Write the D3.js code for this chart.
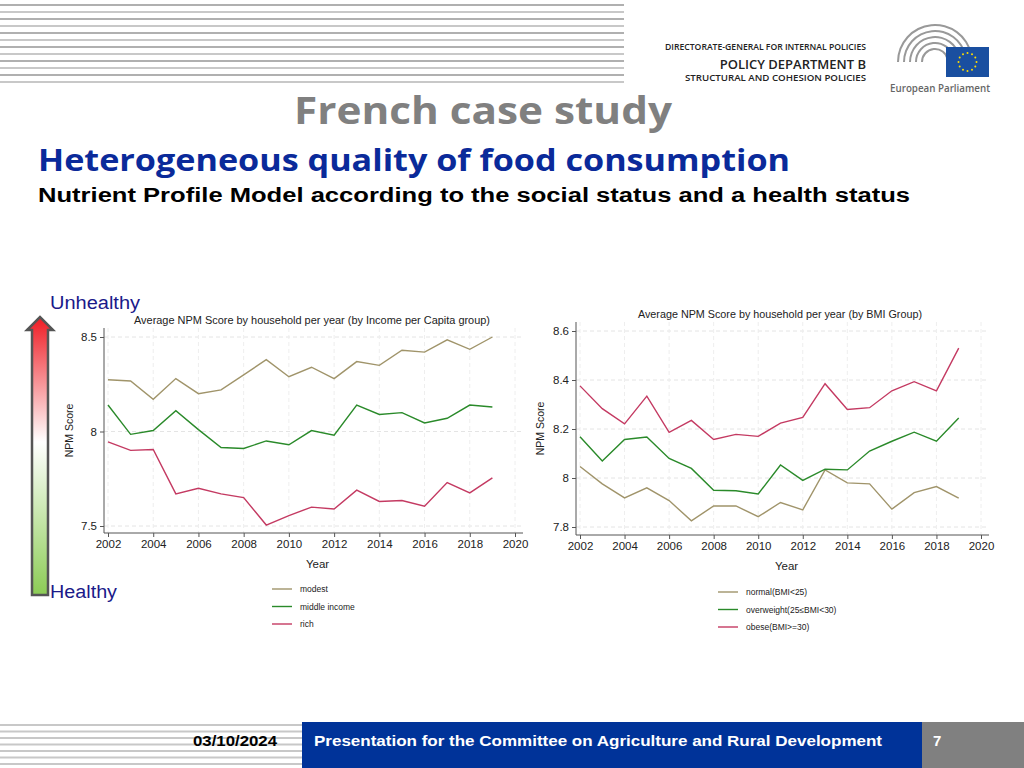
<!DOCTYPE html>
<html><head><meta charset="utf-8">
<script src="https://cdn.jsdelivr.net/npm/d3@7"></script>
<style>body{margin:0;background:#fff}svg{display:block}</style>
</head><body>
<svg id="s" width="1024" height="768"></svg>
<script>
const years = d3.range(2002, 2020);
const modest = [8.274,8.267,8.170,8.28,8.20,8.22,8.30,8.38,8.29,8.34,8.28,8.37,8.35,8.43,8.42,8.485,8.435,8.50];
const middleIncome = [8.14,7.985,8.005,8.11,8.01,7.915,7.91,7.95,7.93,8.005,7.98,8.14,8.09,8.10,8.045,8.07,8.14,8.13];
const rich = [7.945,7.90,7.905,7.67,7.70,7.67,7.65,7.505,7.555,7.60,7.59,7.69,7.63,7.635,7.605,7.73,7.675,7.755];
const normal = [8.047,7.976,7.919,7.96,7.908,7.825,7.886,7.886,7.842,7.90,7.87,8.033,7.98,7.976,7.873,7.94,7.965,7.918];
const overweight = [8.168,8.069,8.157,8.167,8.08,8.039,7.95,7.948,7.935,8.053,7.99,8.036,8.033,8.11,8.15,8.187,8.15,8.245];
const obese = [8.376,8.283,8.221,8.334,8.186,8.235,8.157,8.178,8.17,8.224,8.247,8.385,8.28,8.287,8.356,8.393,8.356,8.53];
const xTicks = [2002,2004,2006,2008,2010,2012,2014,2016,2018,2020];
const yTicksL = [7.5,8,8.5];
const yTicksR = [7.8,8,8.2,8.4,8.6];
const legendL = ["modest","middle income","rich"];
const legendR = ["normal(BMI<25)","overweight(25≤BMI<30)","obese(BMI>=30)"];
const colors = ["#a0946a","#2a8a2a","#c43a62"];

const svg = d3.select("#s");
const F = "Liberation Sans, Arial, sans-serif";
function txt(x,y,s,o){const t=svg.append("text").attr("x",x).attr("y",y).text(s).attr("font-family",o.f||F).attr("font-size",o.s).attr("fill",o.c||"#000");
  if(o.w)t.attr("font-weight",o.w); if(o.a)t.attr("text-anchor",o.a); if(o.l)t.attr("textLength",o.l).attr("lengthAdjust","spacingAndGlyphs"); return t;}

for (let i=0;i<12;i++){
  svg.append("rect").attr("x",0).attr("y",4+i*7).attr("width",624).attr("height",2).attr("fill",i%2?"#c8c8c8":"#b0b0b0");
}
txt(665,50,"DIRECTORATE-GENERAL FOR INTERNAL POLICIES",{f:"Open Sans",w:600,s:9,c:"#222",l:201});
txt(866,69,"POLICY DEPARTMENT B",{f:"Open Sans",w:600,s:13,c:"#222",a:"end"});
txt(685,81,"STRUCTURAL AND COHESION POLICIES",{f:"Open Sans",w:600,s:9,c:"#222",l:181});
const lg = svg.append("g");
[38,32,26,20,14].forEach((r)=>{
  lg.append("path").attr("d",d3.arc()({innerRadius:r-2,outerRadius:r,startAngle:-Math.PI/2,endAngle:Math.PI/2.3})).attr("transform","translate(935,62)").attr("fill","#999");
});
lg.append("rect").attr("x",946).attr("y",47).attr("width",43).attr("height",30).attr("fill","#1a4fa0");
for(let k=0;k<12;k++){const a=k*Math.PI/6;lg.append("circle").attr("cx",967.5+9*Math.cos(a)).attr("cy",62+9*Math.sin(a)).attr("r",1).attr("fill","#ffdd00");}
txt(890,92,"European Parliament",{f:"Open Sans",w:600,s:11,c:"#666",l:100});

txt(294,124,"French case study",{f:"Open Sans",w:700,s:38,c:"#808080",l:378});
txt(38,171,"Heterogeneous quality of food consumption",{f:"Open Sans",w:700,s:30,c:"#0a2a9a",l:752});
txt(38,202,"Nutrient Profile Model according to the social status and a health status",{w:700,s:20,l:872});

const defs = svg.append("defs");
const gr = defs.append("linearGradient").attr("id","ag").attr("x1",0).attr("y1",1).attr("x2",0).attr("y2",0);
gr.append("stop").attr("offset","0%").attr("stop-color","#8ccc55");
gr.append("stop").attr("offset","55%").attr("stop-color","#ffffff");
gr.append("stop").attr("offset","100%").attr("stop-color","#ee1c24");
svg.append("path").attr("d","M32,595 L32,330 L27,330 L40,317 L53,330 L48,330 L48,595 Z").attr("fill","url(#ag)").attr("stroke","#555").attr("stroke-width",2.5);
txt(50,309,"Unhealthy",{s:18,c:"#1a1a8a",l:90});
txt(50,598,"Healthy",{s:18,c:"#1a1a8a",l:67});

function chart(o){
  const x = d3.scaleLinear().domain([2002,2020]).range([o.x0,o.x1]);
  const y = d3.scaleLinear().domain(o.yd).range([o.y0,o.y1]);
  const g = svg.append("g");
  o.yt.forEach(t=>g.append("line").attr("x1",o.x0-4).attr("x2",o.x1+8).attr("y1",y(t)).attr("y2",y(t)).attr("stroke","#e4e4e4").attr("stroke-dasharray","4,3"));
  xTicks.forEach(t=>g.append("line").attr("x1",x(t)).attr("x2",x(t)).attr("y1",o.top).attr("y2",o.bottom).attr("stroke","#eeeeee").attr("stroke-dasharray","4,3"));
  const ax = g.append("g").attr("transform",`translate(0,${o.bottom})`).call(d3.axisBottom(x).tickValues(xTicks).tickFormat(d3.format("d")).tickSize(4));
  const ay = g.append("g").attr("transform",`translate(${o.x0-4},0)`).call(d3.axisLeft(y).tickValues(o.yt).tickFormat(d=>String(d)).tickSize(4));
  [ax,ay].forEach(a=>{a.selectAll("path,line").attr("stroke","#555");a.selectAll("text").attr("font-family",F).attr("font-size",11.5).attr("fill","#222");});
  ax.select(".domain").attr("d",`M${o.x0-4},0H${o.x1+8}`);
  ay.select(".domain").attr("d",`M0,${o.top}V${o.bottom}`);
  const line = d3.line().x((d,i)=>x(years[i])).y(d=>y(d));
  o.series.forEach((s,i)=>g.append("path").attr("d",line(s)).attr("fill","none").attr("stroke",colors[i]).attr("stroke-width",1.4));
  g.append("text").attr("x",o.tx).attr("y",o.ty).attr("text-anchor","middle").attr("font-family",F).attr("font-size",11.5).attr("fill","#222").attr("textLength",o.tl).attr("lengthAdjust","spacingAndGlyphs").text(o.title);
  g.append("text").attr("transform",`translate(${o.yl},${(o.top+o.bottom)/2}) rotate(-90)`).attr("text-anchor","middle").attr("font-family",F).attr("font-size",10.5).attr("fill","#222").text("NPM Score");
  g.append("text").attr("x",(o.x0+o.x1)/2+6).attr("y",o.bottom+35).attr("text-anchor","middle").attr("font-family",F).attr("font-size",11.5).attr("fill","#222").text("Year");
  o.leg.forEach((l,i)=>{
    g.append("line").attr("x1",o.lx).attr("x2",o.lx+20).attr("y1",o.ly+i*17.5).attr("y2",o.ly+i*17.5).attr("stroke",colors[i]).attr("stroke-width",1.4);
    g.append("text").attr("x",o.lx+28).attr("y",o.ly+i*17.5+3).attr("font-family",F).attr("font-size",8.5).attr("fill","#222").text(l);
  });
}
chart({x0:108,x1:515,yd:[7.5,8.5],y0:526,y1:337,top:328,bottom:533,yt:yTicksL,series:[modest,middleIncome,rich],
  title:"Average NPM Score by household per year (by Income per Capita group)",tx:312,ty:324,tl:356,yl:73,leg:legendL,lx:272,ly:589});
chart({x0:580,x1:981,yd:[7.8,8.6],y0:527,y1:331,top:322,bottom:535,yt:yTicksR,series:[normal,overweight,obese],
  title:"Average NPM Score by household per year (by BMI Group)",tx:780,ty:318,tl:284,yl:544,leg:legendR,lx:718,ly:592});

for (let i=0;i<7;i++){
  svg.append("rect").attr("x",0).attr("y",724+i*6.5).attr("width",302).attr("height",2).attr("fill","#c8c8c8");
}
svg.append("rect").attr("x",302).attr("y",722).attr("width",620).attr("height",46).attr("fill","#003399");
svg.append("rect").attr("x",922).attr("y",722).attr("width",102).attr("height",46).attr("fill","#808080");
txt(193,746,"03/10/2024",{w:700,s:15,l:84});
txt(314,746,"Presentation for the Committee on Agriculture and Rural Development",{w:700,s:15,c:"#fff",l:568});
txt(933,746,"7",{w:700,s:15,c:"#fff"});
</script>
</body></html>
